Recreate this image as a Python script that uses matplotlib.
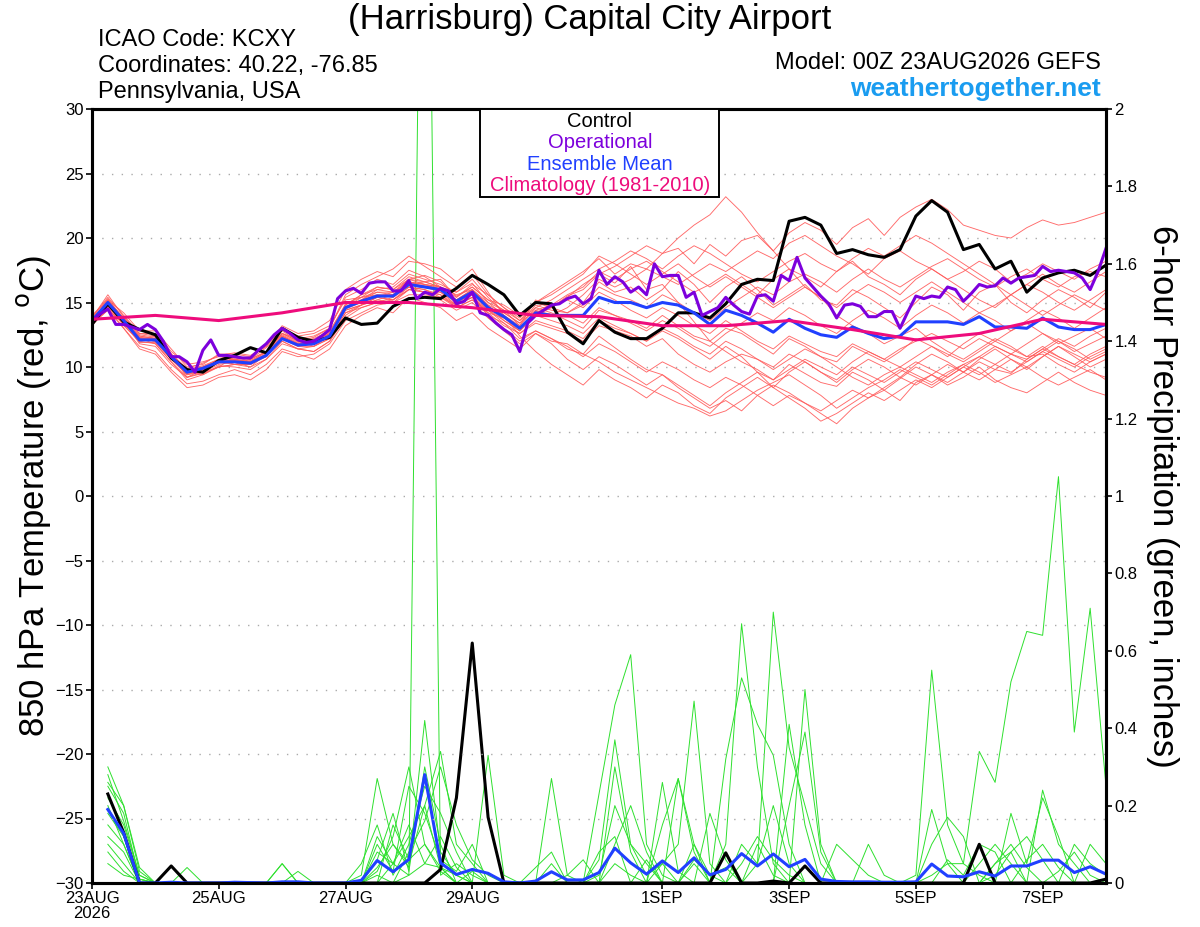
import numpy as np
import matplotlib
matplotlib.use("Agg")
import matplotlib.pyplot as plt
from matplotlib.patches import Rectangle

plt.rcParams['font.family'] = ['Liberation Sans', 'DejaVu Sans']

# ---- data ----
# 850 hPa temperature, 6-hourly, 0..384 h
member_hours = np.arange(0, 385, 6)
control_t = [13.3, 14.9, 13.5, 12.9, 12.5, 10.7, 9.8, 9.6, 10.5, 10.9,
             11.5, 11.1, 13.0, 12.3, 12.0, 12.3, 13.8, 13.3, 13.4, 14.7,
             15.3, 15.4, 15.3, 16.1, 17.1, 16.4, 15.6, 14.0, 15.0, 14.9,
             12.7, 11.8, 13.6, 12.7, 12.2, 12.2, 13.0, 14.2, 14.2, 13.8,
             14.9, 16.4, 16.8, 16.7, 21.3, 21.6, 21.0, 18.8, 19.1, 18.7,
             18.5, 19.1, 21.7, 22.9, 22.0, 19.1, 19.5, 17.6, 18.2, 15.8,
             16.9, 17.3, 17.5, 17.1, 17.9]
mean_t = [13.6, 15.0, 13.6, 12.1, 12.1, 10.8, 9.6, 9.9, 10.4, 10.4,
          10.3, 10.9, 12.2, 11.7, 11.8, 12.4, 14.6, 15.1, 15.5, 15.5,
          16.4, 16.2, 16.0, 15.1, 15.8, 14.6, 13.9, 13.0, 14.2, 14.0,
          14.0, 14.0, 15.4, 15.0, 15.0, 14.6, 15.0, 14.8, 14.2, 13.3,
          14.4, 14.0, 13.4, 12.7, 13.7, 13.0, 12.5, 12.3, 13.1, 12.6,
          12.2, 12.4, 13.5, 13.5, 13.5, 13.3, 13.9, 13.1, 13.1, 13.0,
          13.8, 13.1, 12.9, 12.9, 13.3]

# operational run, 3-hourly
oper_hours = np.arange(0, 385, 3)
oper_t = [13.6, 14.1, 14.5, 13.3, 13.3, 13.1, 12.9, 13.3, 12.9, 12.0,
          10.8, 10.8, 10.4, 9.6, 11.3, 12.1, 10.9, 10.9, 10.8, 10.7,
          10.7, 11.3, 11.8, 12.5, 13.0, 12.6, 12.1, 11.9, 12.0, 12.4,
          12.9, 15.3, 15.9, 16.1, 15.7, 16.5, 16.6, 16.6, 15.9, 15.9,
          16.7, 15.3, 15.8, 15.6, 16.1, 15.9, 14.9, 15.1, 15.8, 14.2,
          14.0, 13.4, 12.9, 12.5, 11.2, 13.4, 14.0, 14.4, 14.8, 14.9,
          15.3, 15.5, 14.9, 15.3, 17.5, 16.4, 17.0, 16.6, 15.8, 16.2,
          15.6, 18.0, 17.0, 17.1, 17.1, 15.4, 15.8, 14.0, 14.3, 14.6,
          15.4, 14.8, 14.3, 14.1, 15.5, 15.6, 15.1, 17.1, 16.7, 18.5,
          16.9, 16.2, 15.5, 14.9, 13.8, 14.8, 14.9, 14.7, 13.9, 13.9,
          14.3, 14.3, 13.0, 14.3, 15.5, 15.3, 15.5, 15.4, 16.2, 16.0,
          15.1, 15.7, 16.4, 16.2, 16.3, 16.9, 16.5, 16.9, 17.0, 17.1,
          17.8, 17.4, 17.5, 17.4, 17.3, 16.9, 16.0, 17.4, 19.2]

# climatology, daily
clim_hours = np.arange(0, 385, 24)
clim_t = [13.7, 14.0, 13.6, 14.2, 15.0, 15.0, 14.6, 14.0, 13.9,
          13.2, 13.2, 13.6, 12.9, 12.1, 12.6, 13.7, 13.3]

# ensemble members (temperature)
t01 = [13.8, 15.6, 13.9, 12.6, 12.4, 11.0, 9.2, 9.5, 10.0, 10.8, 10.6, 11.5, 12.8,
       12.0, 12.3, 13.0, 15.4, 16.0, 16.8, 16.4, 17.5, 17.0, 16.2, 15.8, 16.5, 15.0,
       14.4, 13.2, 15.2, 14.6, 15.5, 16.0, 17.2, 16.5, 17.8, 16.0, 16.4, 15.0, 13.5,
       12.0, 11.2, 10.4, 9.8, 9.0, 10.2, 9.5, 8.8, 8.5, 9.6, 9.0, 8.2, 9.1,
       10.0, 9.4, 8.8, 9.6, 10.4, 9.8, 9.5, 10.6, 11.4, 10.8, 10.2, 11.0, 11.6]
t02 = [13.5, 14.8, 13.2, 12.0, 11.8, 10.4, 9.0, 9.4, 10.1, 10.0, 9.8, 10.6, 12.0,
       11.4, 11.2, 12.0, 14.0, 14.8, 15.2, 15.6, 16.8, 17.1, 16.6, 15.5, 16.2, 15.2,
       14.8, 14.0, 15.0, 15.8, 16.6, 17.4, 18.4, 17.2, 18.0, 17.6, 18.8, 19.2, 18.0,
       19.5, 18.6, 19.8, 20.2, 19.0, 20.4, 21.2, 20.6, 19.5, 20.8, 21.5, 20.2, 21.6,
       22.4, 23.0, 22.2, 21.0, 20.6, 20.2, 20.0, 20.8, 21.4, 21.0, 21.2, 21.6, 22.0]
t03 = [13.2, 14.6, 13.0, 11.6, 11.2, 9.8, 8.7, 8.9, 9.4, 9.8, 9.4, 10.2, 11.4,
       11.0, 10.6, 11.4, 13.2, 14.0, 14.6, 14.2, 15.4, 15.0, 14.6, 13.6, 14.2, 13.0,
       12.2, 11.4, 12.6, 12.0, 11.8, 11.0, 12.4, 11.5, 10.6, 9.8, 9.4, 8.4, 7.6,
       6.8, 7.4, 6.6, 7.8, 8.6, 8.0, 7.2, 6.4, 5.6, 6.8, 7.6, 8.2, 7.4,
       8.8, 9.4, 8.6, 9.2, 10.0, 9.0, 8.4, 8.0, 8.8, 9.6, 8.8, 8.2, 7.8]
t04 = [14.0, 15.2, 14.2, 12.8, 12.8, 11.4, 10.0, 10.2, 11.0, 11.0, 10.8, 11.6, 13.0,
       12.4, 12.6, 13.2, 15.2, 15.4, 16.2, 16.0, 17.0, 16.6, 16.8, 15.4, 16.4, 15.6,
       14.6, 13.8, 15.0, 14.6, 14.2, 15.0, 16.6, 15.8, 16.2, 15.2, 16.0, 17.4, 16.4,
       15.0, 16.2, 17.0, 16.0, 14.8, 15.6, 16.4, 15.2, 14.8, 16.0, 15.4, 14.6, 13.8,
       15.0, 16.2, 15.6, 14.4, 15.8, 16.4, 15.0, 14.2, 15.2, 16.0, 15.4, 14.6, 15.8]
t05 = [13.4, 14.4, 13.4, 12.2, 12.0, 10.6, 9.4, 9.6, 10.2, 10.4, 10.0, 11.0, 12.4,
       11.8, 11.8, 12.6, 14.6, 15.2, 16.0, 15.8, 16.8, 16.4, 16.2, 15.6, 16.0, 14.8,
       13.6, 12.8, 14.0, 14.6, 15.4, 16.4, 17.2, 17.8, 18.6, 19.4, 18.8, 20.0, 21.0,
       21.8, 23.2, 22.0, 20.4, 19.0, 17.6, 16.2, 15.4, 14.0, 13.2, 12.6, 11.8, 12.4,
       13.0, 12.0, 11.2, 10.6, 11.4, 12.2, 11.6, 10.8, 11.0, 10.2, 9.6, 10.4, 11.0]
t06 = [13.6, 14.9, 13.5, 12.4, 12.2, 11.0, 9.8, 10.0, 10.6, 10.2, 10.2, 10.8, 12.2,
       11.6, 11.6, 12.2, 14.2, 14.6, 15.0, 15.2, 16.0, 16.2, 15.8, 15.0, 15.6, 14.0,
       13.4, 12.2, 12.8, 12.2, 11.4, 11.0, 10.4, 9.6, 9.0, 8.4, 7.8, 7.2, 6.8,
       6.2, 6.6, 7.4, 8.2, 8.8, 9.4, 8.6, 7.8, 6.8, 7.6, 8.4, 9.0, 9.8,
       9.2, 8.6, 9.4, 10.2, 10.8, 11.6, 11.0, 10.4, 11.2, 12.0, 11.4, 10.6, 11.2]
t07 = [13.7, 15.1, 13.8, 12.2, 12.0, 10.8, 9.5, 9.7, 10.4, 10.6, 10.4, 10.8, 12.4,
       11.8, 12.0, 12.6, 14.8, 15.6, 16.0, 16.2, 17.2, 16.8, 16.4, 15.8, 16.8, 15.4,
       14.2, 13.4, 14.4, 14.0, 14.6, 15.6, 16.8, 16.2, 16.8, 17.6, 17.0, 16.4, 17.2,
       18.0, 17.4, 18.2, 19.0, 18.4, 19.6, 20.2, 19.4, 18.6, 18.0, 17.2, 18.4, 19.0,
       18.2, 17.6, 16.8, 17.4, 18.2, 17.6, 16.6, 17.2, 18.0, 17.4, 16.8, 17.6, 18.2]
t08 = [13.4, 14.6, 13.6, 11.8, 11.6, 10.2, 9.2, 9.6, 10.0, 10.2, 10.6, 11.2, 12.6,
       12.0, 11.6, 12.4, 14.4, 14.8, 15.4, 15.8, 16.2, 16.0, 15.4, 14.6, 15.2, 14.2,
       13.2, 12.6, 13.4, 13.0, 12.6, 12.0, 13.2, 12.8, 12.4, 11.6, 12.2, 11.0, 10.2,
       9.6, 10.4, 11.0, 10.6, 9.8, 10.6, 11.4, 10.8, 10.0, 9.2, 8.6, 9.4, 10.0,
       9.4, 8.8, 9.6, 10.2, 9.6, 8.8, 9.4, 10.0, 9.2, 8.6, 9.2, 9.8, 9.0]
t09 = [13.9, 15.4, 14.0, 12.6, 12.6, 11.2, 10.2, 10.4, 10.8, 10.6, 10.4, 11.2, 12.6,
       12.2, 12.4, 13.0, 15.6, 16.4, 17.0, 17.6, 18.6, 17.8, 17.0, 16.2, 17.2, 15.6,
       14.6, 13.6, 14.6, 14.2, 13.6, 13.0, 14.4, 14.0, 13.6, 13.0, 14.0, 13.2, 12.4,
       12.0, 13.0, 12.6, 11.8, 11.0, 12.2, 11.6, 10.8, 10.4, 11.6, 11.0, 10.4, 11.2,
       12.2, 11.6, 10.8, 11.8, 12.6, 12.0, 12.8, 13.4, 12.6, 11.8, 12.4, 13.0, 12.2]
t10 = [13.3, 14.4, 13.0, 11.4, 11.0, 9.6, 8.4, 8.6, 9.2, 9.4, 9.0, 9.8, 11.2,
       10.8, 11.0, 11.8, 13.6, 14.2, 14.8, 15.0, 15.6, 15.6, 15.4, 14.8, 15.4, 14.4,
       13.8, 13.0, 14.2, 14.8, 15.6, 16.2, 17.4, 16.8, 17.6, 18.2, 17.4, 16.6, 15.8,
       16.4, 17.2, 16.4, 15.6, 16.8, 17.6, 17.0, 16.2, 17.4, 18.2, 17.0, 16.4, 15.6,
       16.8, 17.6, 16.8, 16.0, 15.2, 14.6, 15.6, 16.4, 15.8, 15.0, 14.4, 15.2, 16.0]
t11 = [13.6, 15.0, 13.4, 12.0, 12.2, 10.8, 9.6, 9.8, 10.4, 10.6, 10.4, 11.0, 12.2,
       11.6, 11.8, 12.4, 14.6, 15.4, 15.6, 15.4, 16.4, 16.6, 16.2, 15.0, 15.6, 14.4,
       13.6, 12.8, 14.0, 13.6, 13.2, 12.6, 13.8, 13.2, 12.6, 12.0, 12.8, 12.2, 11.4,
       10.6, 11.6, 10.8, 9.6, 8.4, 7.6, 6.8, 5.8, 6.4, 7.2, 8.0, 7.4, 8.2,
       9.0, 8.4, 9.2, 10.0, 9.4, 10.2, 11.0, 10.6, 11.4, 12.2, 11.6, 12.4, 13.0]
t12 = [13.5, 14.7, 13.3, 11.9, 11.9, 10.6, 9.4, 9.8, 10.4, 10.2, 10.0, 10.6, 11.8,
       11.4, 11.6, 12.2, 14.2, 14.8, 15.2, 15.0, 16.0, 15.8, 15.8, 14.8, 15.4, 14.2,
       13.8, 12.8, 14.4, 14.8, 15.2, 14.6, 15.8, 15.2, 14.4, 13.8, 14.6, 14.0, 13.2,
       12.6, 13.6, 12.8, 12.0, 11.4, 12.4, 11.8, 11.2, 10.8, 11.8, 11.2, 10.6, 11.4,
       12.0, 12.6, 12.0, 11.4, 12.2, 11.6, 11.0, 11.8, 12.6, 12.0, 11.2, 11.8, 12.4]
t13 = [13.8, 15.3, 13.7, 12.3, 12.0, 10.9, 9.8, 10.1, 10.6, 10.8, 10.6, 11.2, 12.6,
       12.0, 12.2, 12.8, 14.8, 15.6, 16.2, 16.0, 16.8, 16.6, 16.2, 15.2, 16.0, 14.8,
       14.2, 13.4, 14.8, 14.4, 14.2, 14.8, 16.2, 15.6, 15.2, 14.6, 15.6, 15.0, 14.2,
       13.6, 14.6, 15.4, 16.2, 15.6, 16.6, 17.2, 16.6, 15.8, 16.8, 17.6, 16.8, 16.2,
       17.0, 17.8, 18.4, 17.6, 16.8, 16.2, 17.0, 17.6, 16.8, 16.2, 17.0, 17.4, 17.0]
t14 = [13.4, 14.9, 13.6, 12.0, 12.4, 11.0, 9.6, 9.4, 10.0, 10.2, 10.2, 11.0, 12.0,
       11.4, 11.2, 12.0, 13.8, 14.6, 15.0, 15.4, 16.2, 15.8, 15.2, 14.4, 15.0, 13.8,
       12.8, 11.8, 12.6, 11.8, 10.6, 9.8, 10.8, 10.2, 9.4, 8.6, 9.4, 8.6, 7.8,
       7.0, 8.0, 8.8, 9.6, 9.0, 9.8, 10.6, 10.0, 9.4, 10.4, 11.2, 10.6, 10.0,
       10.8, 11.6, 11.0, 10.4, 11.2, 12.0, 11.4, 10.8, 11.6, 10.8, 10.2, 9.6, 9.2]
t15 = [13.7, 15.0, 13.8, 12.4, 12.2, 10.8, 9.6, 9.9, 10.4, 10.6, 10.2, 10.9, 12.4,
       11.8, 12.0, 12.6, 14.6, 15.2, 15.8, 15.6, 16.6, 16.4, 16.0, 15.2, 16.0, 15.0,
       14.0, 13.2, 14.6, 15.2, 16.0, 16.8, 17.6, 18.2, 19.0, 18.4, 17.6, 18.6, 19.4,
       18.8, 18.0, 17.2, 16.6, 17.4, 18.2, 18.8, 18.0, 17.4, 18.4, 19.2, 18.6, 19.4,
       20.2, 19.6, 18.8, 18.0, 17.2, 16.4, 15.6, 16.4, 17.2, 16.4, 15.8, 16.6, 17.4]
t16 = [13.5, 14.5, 13.4, 12.2, 11.8, 10.4, 9.2, 9.8, 10.4, 10.4, 10.2, 11.0, 12.2,
       11.8, 12.0, 12.4, 14.4, 14.8, 15.4, 15.2, 16.0, 15.8, 15.6, 14.6, 15.2, 14.4,
       13.4, 12.6, 13.6, 13.2, 12.8, 12.2, 13.6, 13.0, 12.6, 12.0, 13.0, 12.4, 11.6,
       11.0, 12.0, 11.4, 10.6, 10.0, 11.0, 10.4, 9.6, 9.0, 10.0, 9.4, 8.8, 9.6,
       10.4, 9.8, 9.2, 10.0, 10.8, 10.2, 9.6, 10.4, 11.2, 10.6, 10.0, 10.8, 11.4]
t17 = [13.6, 15.2, 13.8, 12.5, 12.3, 11.0, 9.9, 10.3, 10.9, 11.1, 10.9, 11.6, 13.2,
       12.6, 12.8, 13.6, 16.0, 16.8, 17.4, 17.0, 18.2, 18.0, 17.6, 16.6, 17.6, 15.8,
       14.0, 12.4, 11.2, 10.2, 9.4, 8.6, 9.8, 9.0, 8.4, 7.6, 8.6, 8.0, 7.0,
       6.4, 7.6, 8.4, 9.2, 8.4, 9.6, 10.4, 9.6, 8.8, 9.8, 10.6, 10.0, 9.2,
       10.2, 11.0, 10.4, 9.6, 10.6, 11.4, 10.6, 9.8, 10.8, 11.6, 10.8, 10.0, 10.6]
t18 = [13.5, 14.8, 13.6, 12.2, 12.2, 10.9, 9.7, 9.9, 10.5, 10.7, 10.5, 11.1, 12.5,
       11.9, 12.1, 12.7, 14.9, 15.4, 15.8, 15.8, 16.6, 16.4, 16.2, 15.4, 16.2, 15.2,
       14.4, 13.6, 15.0, 15.6, 16.4, 17.2, 18.6, 18.0, 17.2, 16.4, 17.2, 18.0, 17.0,
       16.2, 17.0, 16.2, 15.4, 14.6, 15.4, 16.2, 15.4, 14.6, 15.6, 16.4, 15.8, 15.0,
       15.8, 16.6, 15.8, 15.0, 14.2, 14.8, 15.6, 14.8, 14.0, 14.8, 15.6, 15.0, 14.4]
t19 = [13.4, 14.7, 13.5, 12.1, 12.0, 10.7, 9.5, 9.8, 10.3, 10.5, 10.3, 10.9, 12.3,
       11.7, 11.9, 12.5, 14.5, 15.0, 15.4, 15.2, 16.2, 16.0, 15.6, 14.8, 15.4, 14.0,
       13.0, 12.0, 12.8, 12.2, 11.6, 10.8, 11.8, 11.2, 10.4, 9.6, 10.4, 9.8, 9.0,
       8.4, 9.2, 8.6, 7.8, 7.0, 7.8, 7.2, 6.6, 7.4, 8.2, 7.6, 8.4, 9.2,
       8.6, 9.4, 10.2, 9.6, 9.0, 9.8, 10.6, 10.0, 10.8, 11.6, 11.0, 10.4, 11.0]
t20 = [13.7, 15.1, 13.7, 12.3, 12.2, 10.9, 9.7, 10.0, 10.5, 10.5, 10.4, 11.0, 12.3,
       11.8, 11.9, 12.5, 14.7, 15.2, 15.6, 15.6, 16.5, 16.3, 16.1, 15.2, 15.9, 14.7,
       14.0, 13.1, 14.3, 14.1, 14.0, 13.4, 14.6, 14.0, 13.4, 12.8, 13.6, 13.0, 12.2,
       11.6, 12.6, 13.4, 14.2, 13.6, 14.6, 14.0, 13.2, 12.6, 13.6, 14.4, 13.8, 13.0,
       14.0, 14.8, 14.2, 13.4, 14.2, 13.6, 12.8, 13.6, 14.4, 13.8, 13.0, 13.8, 14.6]
temp_members = [t01, t02, t03, t04, t05, t06, t07, t08, t09, t10,
                t11, t12, t13, t14, t15, t16, t17, t18, t19, t20]

# 6-hour precipitation (inches), valid 6..384 h
precip_hours = np.arange(6, 385, 6)
control_p = [0.23, 0.13, 0, 0, 0.044, 0, 0, 0, 0, 0, 0, 0, 0, 0, 0, 0,
             0, 0, 0, 0, 0, 0.035, 0.22, 0.62, 0.17, 0, 0, 0, 0, 0, 0, 0,
             0, 0, 0, 0, 0, 0, 0, 0.078, 0, 0, 0.005, 0, 0.044, 0, 0, 0,
             0, 0, 0, 0, 0, 0, 0, 0.10, 0, 0, 0, 0, 0, 0, 0, 0.01]
mean_p = [0.19, 0.128, 0, 0, 0.002, 0, 0, 0, 0.002, 0.001, 0, 0.003, 0.003, 0, 0, 0,
          0.007, 0.058, 0.029, 0.061, 0.28, 0.052, 0.022, 0.035, 0.025, 0.003, 0, 0.005, 0.029, 0.008, 0.008, 0.027,
          0.09, 0.052, 0.023, 0.057, 0.027, 0.065, 0.021, 0.035, 0.076, 0.044, 0.075, 0.042, 0.061, 0.01, 0.004, 0.003,
          0.003, 0.002, 0.002, 0.003, 0.049, 0.018, 0.016, 0.029, 0.018, 0.044, 0.044, 0.059, 0.059, 0.027, 0.042, 0.023]

p01 = [0.30, 0.20, 0.03, 0, 0, 0, 0, 0, 0, 0, 0, 0, 0, 0, 0, 0,
       0, 0.08, 0.05, 0.02, 3.6, 0.02, 0.05, 0.02, 0, 0, 0, 0, 0, 0, 0, 0.02,
       0.20, 0.10, 0.02, 0.05, 0, 0.10, 0.02, 0, 0.05, 0.12, 0.06, 0.02, 0, 0, 0, 0,
       0, 0, 0, 0, 0, 0, 0, 0, 0.05, 0.10, 0.04, 0, 0.03, 0.08, 0.02, 0]
p02 = [0.22, 0.15, 0.02, 0, 0, 0, 0, 0, 0, 0, 0, 0.05, 0, 0, 0, 0,
       0, 0.03, 0.12, 0.30, 0.10, 0.04, 0.02, 0, 0, 0, 0, 0, 0, 0, 0, 0,
       0.05, 0.02, 0, 0, 0, 0, 0, 0, 0, 0, 0, 0, 0, 0, 0, 0,
       0, 0, 0, 0, 0.02, 0.05, 0.05, 0.34, 0.26, 0.52, 0.65, 0.64, 1.05, 0.39, 0.71, 0.25]
p03 = [0.25, 0.18, 0.01, 0, 0, 0, 0, 0, 0, 0, 0, 0, 0, 0, 0, 0,
       0.02, 0.27, 0.10, 0.04, 0.42, 0.08, 0.02, 0, 0, 0, 0, 0, 0.27, 0.02, 0, 0,
       0, 0, 0, 0, 0, 0.05, 0, 0, 0, 0, 0, 0, 0, 0, 0, 0,
       0, 0, 0, 0.02, 0.55, 0.15, 0.05, 0.02, 0, 0, 0, 0.24, 0.10, 0.05, 0, 0]
p04 = [0.18, 0.12, 0.01, 0, 0, 0, 0, 0, 0, 0, 0, 0, 0, 0, 0, 0,
       0, 0, 0.05, 0.12, 0.20, 0.34, 0.10, 0.05, 0, 0, 0, 0, 0, 0, 0, 0.23,
       0.46, 0.59, 0.10, 0.02, 0, 0, 0, 0.10, 0.67, 0.30, 0.05, 0, 0, 0, 0, 0,
       0, 0, 0, 0, 0, 0, 0, 0, 0.02, 0.08, 0, 0, 0, 0, 0, 0]
p05 = [0.12, 0.08, 0, 0, 0, 0, 0, 0, 0, 0, 0, 0, 0, 0, 0, 0,
       0, 0.10, 0.03, 0.25, 0.18, 0.06, 0.03, 0.10, 0, 0, 0, 0, 0, 0, 0, 0,
       0, 0, 0, 0.26, 0.03, 0, 0, 0, 0, 0.05, 0.70, 0.35, 0.20, 0.05, 0, 0,
       0, 0, 0, 0, 0, 0, 0, 0, 0, 0, 0, 0, 0, 0.10, 0.05, 0.02]
p06 = [0.28, 0.16, 0.02, 0, 0, 0.04, 0, 0, 0, 0, 0, 0, 0, 0, 0, 0,
       0, 0, 0.15, 0.06, 0.10, 0.03, 0, 0, 0.33, 0.02, 0, 0, 0, 0, 0, 0,
       0.30, 0.08, 0, 0, 0.27, 0.08, 0, 0, 0, 0, 0, 0.41, 0.15, 0, 0, 0,
       0.10, 0.02, 0, 0, 0, 0, 0, 0, 0, 0, 0, 0, 0, 0, 0, 0]
p07 = [0.10, 0.05, 0, 0, 0, 0, 0, 0, 0, 0, 0, 0.05, 0, 0, 0, 0,
       0.05, 0.15, 0.02, 0.10, 0.25, 0.18, 0.08, 0, 0, 0, 0, 0, 0, 0, 0, 0,
       0, 0, 0, 0.05, 0.10, 0.47, 0.05, 0, 0, 0, 0, 0, 0.50, 0.10, 0, 0,
       0, 0, 0, 0, 0.10, 0.17, 0.12, 0, 0, 0, 0, 0, 0, 0, 0, 0]
p08 = [0.26, 0.20, 0.04, 0, 0, 0, 0, 0, 0, 0, 0, 0, 0, 0, 0, 0,
       0, 0.06, 0.18, 0.03, 0.30, 0.10, 0, 0, 0, 0, 0, 0, 0.05, 0, 0, 0.06,
       0.37, 0.10, 0.05, 0, 0, 0, 0, 0.32, 0.53, 0.41, 0.33, 0.10, 0, 0, 0, 0,
       0, 0, 0, 0, 0, 0, 0, 0, 0, 0.18, 0.05, 0.22, 0.12, 0, 0, 0]
p09 = [0.08, 0.03, 0, 0, 0, 0, 0, 0, 0, 0, 0, 0, 0, 0, 0, 0,
       0, 0.02, 0, 0.08, 0.16, 0.30, 0.15, 0.06, 0.02, 0, 0, 0, 0, 0, 0, 0,
       0.10, 0.20, 0.08, 0, 0, 0, 0.18, 0.06, 0, 0, 0, 0.20, 0.39, 0.08, 0, 0,
       0, 0, 0, 0, 0, 0, 0, 0.05, 0.10, 0.05, 0, 0, 0, 0, 0, 0]
p10 = [0.20, 0.10, 0, 0, 0, 0, 0, 0, 0, 0, 0, 0, 0, 0, 0, 0,
       0, 0.12, 0.05, 0.15, 0.05, 0.12, 0.04, 0, 0, 0, 0, 0, 0, 0.02, 0.06, 0,
       0, 0, 0, 0.15, 0.27, 0.10, 0, 0, 0.10, 0.05, 0.20, 0.05, 0, 0, 0, 0,
       0, 0, 0, 0, 0.19, 0.05, 0, 0, 0, 0, 0, 0, 0, 0, 0.10, 0.05]
p11 = [0.15, 0.10, 0, 0, 0, 0, 0, 0, 0, 0, 0, 0, 0, 0, 0, 0,
       0, 0, 0, 0.02, 0.05, 0.04, 0, 0, 0, 0, 0, 0, 0, 0, 0, 0.08,
       0.12, 0, 0, 0, 0, 0.06, 0.02, 0.04, 0, 0, 0, 0, 0, 0, 0.10, 0.06,
       0.02, 0, 0, 0, 0, 0.06, 0.02, 0.10, 0.08, 0, 0.06, 0.10, 0.04, 0, 0, 0]
p12 = [0.05, 0.02, 0.01, 0, 0, 0, 0, 0, 0, 0, 0, 0, 0.03, 0, 0, 0,
       0, 0.04, 0.10, 0.05, 0.20, 0.04, 0, 0.03, 0, 0, 0, 0.04, 0.08, 0, 0, 0,
       0, 0, 0.06, 0, 0, 0, 0, 0, 0, 0.10, 0.02, 0, 0, 0, 0, 0,
       0, 0, 0, 0, 0, 0, 0, 0, 0.05, 0.08, 0.12, 0.06, 0, 0, 0, 0]
precip_members = [p01, p02, p03, p04, p05, p06, p07, p08, p09, p10, p11, p12]

tick_hours = [0, 48, 96, 144, 216, 264, 312, 360]
tick_labels = ['23AUG\n2026', '25AUG', '27AUG', '29AUG', '1SEP', '3SEP', '5SEP', '7SEP']

# ---- colours ----
c_red = '#ff5a5a'
c_green = '#2ee02e'
c_oper = '#7d00dc'
c_mean = '#2040ff'
c_clim = '#ee0c7c'

fig = plt.figure(figsize=(12, 9.27), dpi=100)
ax = fig.add_axes([92 / 1200, 1 - 883 / 927, 1014 / 1200, 774 / 927])
ax2 = ax.twinx()
ax.set_zorder(ax2.get_zorder() + 1)
ax.patch.set_visible(False)

# precipitation on the right axis
for m in precip_members:
    ax2.plot(precip_hours[:len(m)], m, color=c_green, lw=0.7)
ax2.plot(precip_hours, control_p, color='black', lw=2.2)
ax2.plot(precip_hours, mean_p, color=c_mean, lw=2.2)

# temperatures on the left axis
for m in temp_members:
    ax.plot(member_hours[:len(m)], m, color=c_red, lw=0.65, alpha=0.9)
ax.plot(member_hours, control_t, color='black', lw=2.2)
ax.plot(member_hours, mean_t, color=c_mean, lw=2.2)
ax.plot(oper_hours, oper_t, color=c_oper, lw=2.2)
ax.plot(clim_hours, clim_t, color=c_clim, lw=2.2)

ax.set_xlim(0, 384)
ax.set_ylim(-30, 30)
ax2.set_ylim(0, 2)
ax.set_yticks(np.arange(-30, 31, 5))
ax2.set_yticks(np.arange(0, 2.01, 0.2))
ax2.set_yticklabels(['0', '0.2', '0.4', '0.6', '0.8', '1', '1.2', '1.4', '1.6', '1.8', '2'])
ax.set_xticks(tick_hours)
ax.set_xticklabels(tick_labels)
for lab in ax.get_xticklabels():
    lab.set_linespacing(0.95)

for y in np.arange(-25, 26, 5):
    ax.axhline(y, color='#aaaaaa', lw=1.0, ls=(0, (1, 6)), zorder=0.5)

for a in (ax, ax2):
    for s in a.spines.values():
        s.set_linewidth(2.2)
ax.tick_params(axis='y', labelsize=12, length=4, width=1.2, pad=2)
ax.tick_params(axis='x', labelsize=12, length=4, width=1.2, pad=2)
ax2.tick_params(axis='y', labelsize=12, length=4, width=1.2, pad=2)

ax.set_ylabel(u'850 hPa Temperature (red, $^{\\rm o}$C)', fontsize=25, labelpad=2)
ax2.set_ylabel('6-hour Precipitation (green, inches)', fontsize=25, rotation=270, labelpad=30)

# legend box
ax.add_patch(Rectangle((388 / 1014, 1 - 88 / 774), 239 / 1014, 88 / 774, transform=ax.transAxes,
                       facecolor='white', edgecolor='black', lw=1.4, zorder=10))
legend_items = [('Control', 'black'), ('Operational', c_oper),
                ('Ensemble Mean', c_mean), ('Climatology (1981-2010)', c_clim)]
for i, (txt, col) in enumerate(legend_items):
    ax.text(508 / 1014, 1 - (12 + 21.5 * i) / 774, txt, color=col, fontsize=14.5,
            ha='center', va='center', transform=ax.transAxes, zorder=11)

# header texts
fig.text(590 / 1200, 1 - 19 / 927, '(Harrisburg) Capital City Airport', fontsize=25,
         ha='center', va='center')
fig.text(98 / 1200, 1 - 40 / 927, 'ICAO Code: KCXY', fontsize=17, ha='left', va='center')
fig.text(98 / 1200, 1 - 66 / 927, 'Coordinates: 40.22, -76.85', fontsize=17, ha='left', va='center')
fig.text(98 / 1200, 1 - 92 / 927, 'Pennsylvania, USA', fontsize=17, ha='left', va='center')
fig.text(1101 / 1200, 1 - 63 / 927, 'Model: 00Z 23AUG2026 GEFS', fontsize=17, ha='right', va='center')
fig.text(1101 / 1200, 1 - 89 / 927, 'weathertogether.net', fontsize=19, ha='right', va='center',
         color='#1a9cf0', fontweight='bold')

fig.savefig('out.png', dpi=100)
